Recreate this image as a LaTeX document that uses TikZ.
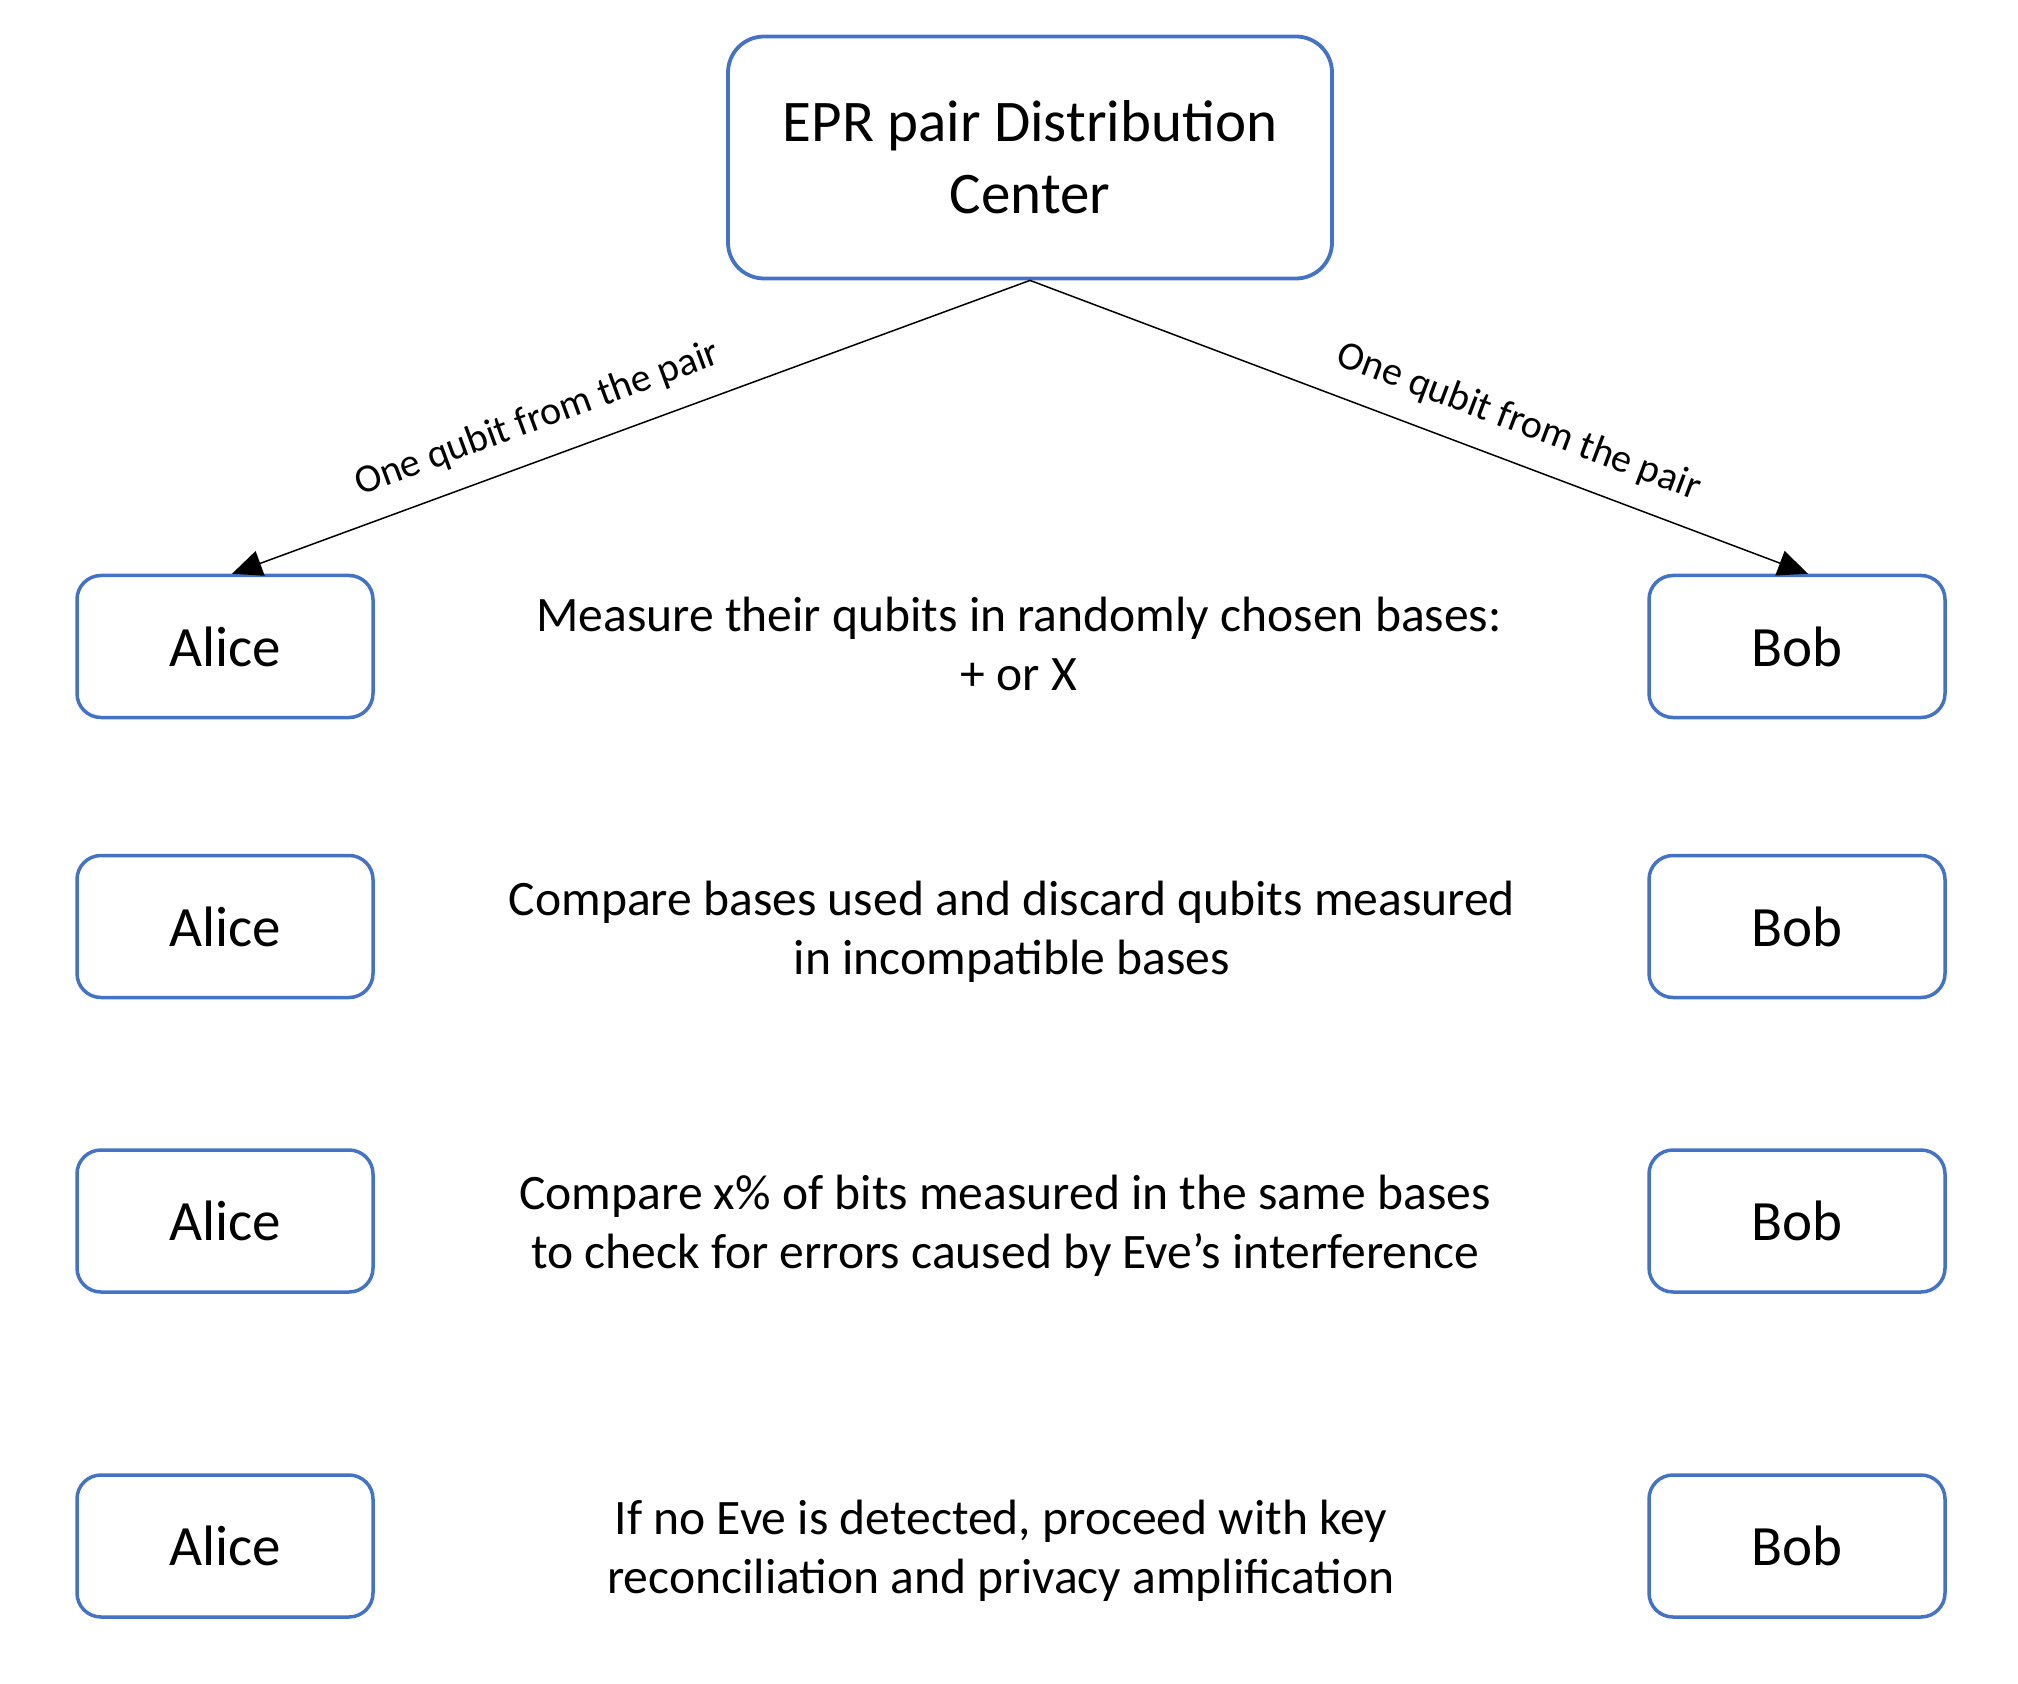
\documentclass[tikz,border=0pt]{standalone}
\usepackage{fontspec}
\setmainfont{Carlito}
\usetikzlibrary{arrows.meta}
\definecolor{boxblue}{HTML}{4472C4}
\begin{document}
\begin{tikzpicture}[x=0.5pt,y=-0.5pt,
  pbox/.style={draw=boxblue, line width=1.75pt, rounded corners=12pt, minimum width=148pt, minimum height=71pt, inner sep=0pt, font=\fontsize{28.5}{34}\selectfont},
  topbox/.style={draw=boxblue, line width=1.9pt, rounded corners=18pt, minimum width=302pt, minimum height=121pt, inner sep=0pt, align=center, font=\fontsize{29.5}{36}\selectfont},
  steptext/.style={align=center, font=\fontsize{24.8}{29.3}\selectfont, inner sep=0pt},
  qarrow/.style={-{Triangle[length=15pt,width=13pt]}, line width=0.75pt},
  qlabel/.style={sloped, above=9pt, font=\fontsize{20}{24}\selectfont, inner sep=2pt}
]
\useasboundingbox (0,0) rectangle (2018,1684);

\node[topbox] (epr) at (1030,157.5) {EPR pair Distribution\\Center};

\node[pbox] (a1) at (225,646.5) {Alice};
\node[pbox] (a2) at (225,926.5) {Alice};
\node[pbox] (a3) at (225,1221) {Alice};
\node[pbox] (a4) at (225,1546) {Alice};

\node[pbox] (b1) at (1797,646.5) {Bob};
\node[pbox] (b2) at (1797,926.5) {Bob};
\node[pbox] (b3) at (1797,1221) {Bob};
\node[pbox] (b4) at (1797,1546) {Bob};

\node[steptext] (s1) at (1019,644) {Measure their qubits in randomly chosen bases:\\+ or X};
\node[steptext] (s2) at (1012,932) {Compare bases used and discard qubits measured\\in incompatible bases};
\node[steptext] (s3) at (1005,1226) {Compare x\% of bits measured in the same bases\\to check for errors caused by Eve’s interference};
\node[steptext] (s4) at (1001,1551) {If no Eve is detected, proceed with key\\reconciliation and privacy amplification};

\coordinate (ta) at ([xshift=3.5pt]a1.north);
\coordinate (tb) at ([xshift=5.5pt]b1.north);

\draw[qarrow] (epr.south) -- node[qlabel, pos=0.60] (la) {One qubit from the pair} (ta);
\draw[qarrow] (epr.south) -- node[qlabel, pos=0.61] (lb) {One qubit from the pair} (tb);
\end{tikzpicture}
\end{document}
